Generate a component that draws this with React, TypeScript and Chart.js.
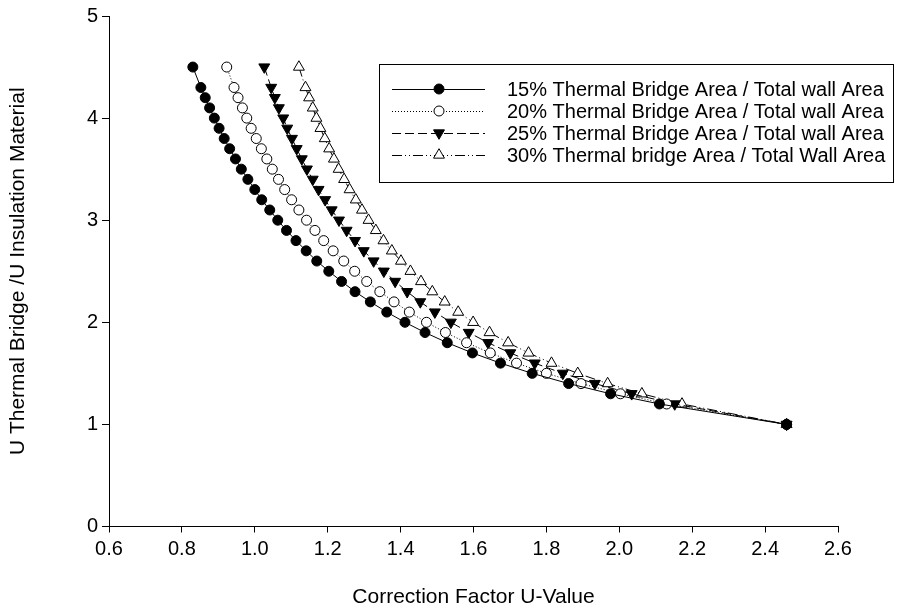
import React, { useEffect, useRef } from 'react';
import { Chart, registerables } from 'chart.js';

Chart.register(...registerables);

// U thermal bridge / U insulation ratio (shared by all series)
const ratioValues = [4.5, 4.3, 4.2, 4.1, 4.0, 3.9, 3.8, 3.7, 3.6, 3.5, 3.4, 3.3, 3.2, 3.1, 3.0, 2.9, 2.8, 2.7, 2.6, 2.5, 2.4, 2.3, 2.2, 2.1, 2.0, 1.9, 1.8, 1.7, 1.6, 1.5, 1.4, 1.3, 1.2, 1.0];

// Correction factor U-value for each thermal-bridge area share
const cf15 = [0.830, 0.852, 0.864, 0.876, 0.889, 0.902, 0.916, 0.931, 0.947, 0.963, 0.981, 1.000, 1.019, 1.041, 1.063, 1.087, 1.113, 1.141, 1.170, 1.203, 1.238, 1.275, 1.317, 1.362, 1.412, 1.467, 1.528, 1.597, 1.674, 1.761, 1.861, 1.976, 2.110, 2.459];
const cf20 = [0.923, 0.943, 0.954, 0.966, 0.978, 0.990, 1.004, 1.018, 1.033, 1.048, 1.065, 1.082, 1.101, 1.121, 1.142, 1.165, 1.189, 1.215, 1.244, 1.274, 1.307, 1.343, 1.382, 1.424, 1.471, 1.523, 1.581, 1.646, 1.718, 1.800, 1.895, 2.003, 2.130, 2.459];
const cf25 = [1.026, 1.045, 1.055, 1.066, 1.078, 1.089, 1.102, 1.115, 1.129, 1.143, 1.159, 1.175, 1.193, 1.211, 1.231, 1.252, 1.275, 1.299, 1.326, 1.354, 1.385, 1.418, 1.454, 1.494, 1.538, 1.587, 1.640, 1.701, 1.768, 1.845, 1.933, 2.034, 2.152, 2.459];
const cf30 = [1.121, 1.139, 1.149, 1.159, 1.169, 1.180, 1.192, 1.204, 1.217, 1.230, 1.245, 1.260, 1.277, 1.294, 1.312, 1.332, 1.353, 1.376, 1.401, 1.427, 1.456, 1.487, 1.521, 1.558, 1.599, 1.644, 1.695, 1.751, 1.814, 1.886, 1.968, 2.062, 2.172, 2.459];

const seriesLabels = [
  '15% Thermal Bridge Area / Total wall Area',
  '20% Thermal Bridge Area / Total wall Area',
  '25% Thermal Bridge Area / Total wall Area',
  '30% Thermal bridge Area / Total Wall Area',
];

const xTickValues = [0.6, 0.8, 1.0, 1.2, 1.4, 1.6, 1.8, 2.0, 2.2, 2.4, 2.6];
const yTickValues = [0, 1, 2, 3, 4, 5];

const xTitle = 'Correction Factor U-Value';
const yTitle = 'U Thermal Bridge /U Insulation Material';

const FONT = "'Liberation Sans', Arial, sans-serif";

function drawMarker(ctx: CanvasRenderingContext2D, style: string, rot: number, r: number, fill: string, x: number, y: number) {
  ctx.save();
  ctx.beginPath();
  if (style === 'circle') {
    ctx.arc(x, y, r, 0, Math.PI * 2);
  } else {
    const base = (rot * Math.PI) / 180;
    for (let k = 0; k < 3; k++) {
      const a = base + (k * 2 * Math.PI) / 3;
      const px = x + Math.sin(a) * r;
      const py = y - Math.cos(a) * r;
      if (k === 0) ctx.moveTo(px, py);
      else ctx.lineTo(px, py);
    }
    ctx.closePath();
  }
  ctx.fillStyle = fill;
  ctx.fill();
  ctx.lineWidth = 1;
  ctx.strokeStyle = '#000';
  ctx.setLineDash([]);
  ctx.stroke();
  ctx.restore();
}

const boxLegend = {
  id: 'boxLegend',
  afterDraw(chart: any) {
    const ctx: CanvasRenderingContext2D = chart.ctx;
    const ca = chart.chartArea;
    const x0 = Math.round(ca.left + 270);
    const y0 = Math.round(ca.top + 48);
    const w = 514;
    const h = 118;
    ctx.save();
    ctx.strokeStyle = '#000';
    ctx.lineWidth = 1;
    ctx.setLineDash([]);
    ctx.strokeRect(x0 + 0.5, y0 + 0.5, w, h);
    ctx.font = `20px ${FONT}`;
    ctx.textBaseline = 'middle';
    ctx.textAlign = 'left';
    ctx.fillStyle = '#000';
    chart.data.datasets.forEach((ds: any, i: number) => {
      const cy = Math.round(y0 + 25 + i * 22);
      ctx.save();
      ctx.strokeStyle = '#000';
      ctx.lineWidth = 1;
      ctx.setLineDash(ds.borderDash || []);
      ctx.beginPath();
      ctx.moveTo(x0 + 13, cy + 0.5);
      ctx.lineTo(x0 + 106, cy + 0.5);
      ctx.stroke();
      ctx.restore();
      drawMarker(ctx, ds.pointStyle, ds.pointRotation || 0, ds.pointRadius, ds.pointBackgroundColor, x0 + 60, cy);
      ctx.fillStyle = '#000';
      ctx.fillText(ds.label, x0 + 128, cy + 1);
    });
    ctx.restore();
  },
};

export default function App() {
  const canvasRef = useRef<HTMLCanvasElement | null>(null);

  useEffect(() => {
    if (!canvasRef.current) return;
    Chart.defaults.font.family = FONT;
    Chart.defaults.color = '#000';

    const mk = (vals: number[]) => ratioValues.map((y, i) => ({ x: vals[i], y }));

    const common = {
      borderColor: '#000',
      borderWidth: 1,
      pointBorderColor: '#000',
      pointBorderWidth: 1,
      tension: 0,
      fill: false,
    };

    const chart = new Chart(canvasRef.current, {
      type: 'line',
      data: {
        datasets: [
          { ...common, label: seriesLabels[0], data: mk(cf15), pointStyle: 'circle', pointRadius: 5, pointHoverRadius: 5, pointBackgroundColor: '#000', borderDash: [] },
          { ...common, label: seriesLabels[1], data: mk(cf20), pointStyle: 'circle', pointRadius: 5, pointHoverRadius: 5, pointBackgroundColor: '#fff', borderDash: [1, 2] },
          { ...common, label: seriesLabels[2], data: mk(cf25), pointStyle: 'triangle', pointRotation: 180, pointRadius: 6.3, pointHoverRadius: 6.3, pointBackgroundColor: '#000', borderDash: [9, 4] },
          { ...common, label: seriesLabels[3], data: mk(cf30), pointStyle: 'triangle', pointRotation: 0, pointRadius: 6.3, pointHoverRadius: 6.3, pointBackgroundColor: '#fff', borderDash: [10, 3, 1, 3, 1, 3] },
        ],
      },
      options: {
        responsive: false,
        animation: false,
        devicePixelRatio: 1,
        events: [],
        layout: { padding: { left: 0, top: 14, right: 77, bottom: 0 } },
        plugins: {
          legend: { display: false },
          tooltip: { enabled: false },
        },
        scales: {
          x: {
            type: 'linear',
            min: 0.6,
            max: 2.6,
            afterBuildTicks: (scale: any) => {
              scale.ticks = xTickValues.map((v) => ({ value: v }));
            },
            afterFit: (scale: any) => {
              scale.height = 88.5;
            },
            grid: { display: true, drawOnChartArea: false, drawTicks: true, tickLength: 6, color: '#000', tickColor: '#000' },
            border: { display: true, color: '#000', width: 1 },
            ticks: {
              font: { size: 20 },
              color: '#000',
              padding: 5,
              maxRotation: 0,
              autoSkip: false,
              callback: (v: any) => Number(v).toFixed(1),
            },
            title: { display: true, text: xTitle, font: { size: 21 }, color: '#000', padding: { top: 0, bottom: 5 } },
          },
          y: {
            type: 'linear',
            min: 0,
            max: 5,
            afterBuildTicks: (scale: any) => {
              scale.ticks = yTickValues.map((v) => ({ value: v }));
            },
            afterFit: (scale: any) => {
              scale.width = 109;
            },
            grid: { display: true, drawOnChartArea: false, drawTicks: true, tickLength: 7, color: '#000', tickColor: '#000' },
            border: { display: true, color: '#000', width: 1 },
            ticks: {
              font: { size: 20 },
              color: '#000',
              padding: 4,
              autoSkip: false,
              callback: (v: any) => String(Math.round(Number(v))),
            },
            title: { display: true, text: yTitle, font: { size: 21 }, color: '#000', padding: { top: 6, bottom: 0 } },
          },
        },
      },
      plugins: [boxLegend],
    } as any);

    return () => chart.destroy();
  }, []);

  return (
    <div style={{ position: 'absolute', left: 0, top: 0, width: 915, height: 615, background: '#fff' }}>
      <canvas ref={canvasRef} width={915} height={615} style={{ display: 'block', width: 915, height: 615 }} />
    </div>
  );
}
